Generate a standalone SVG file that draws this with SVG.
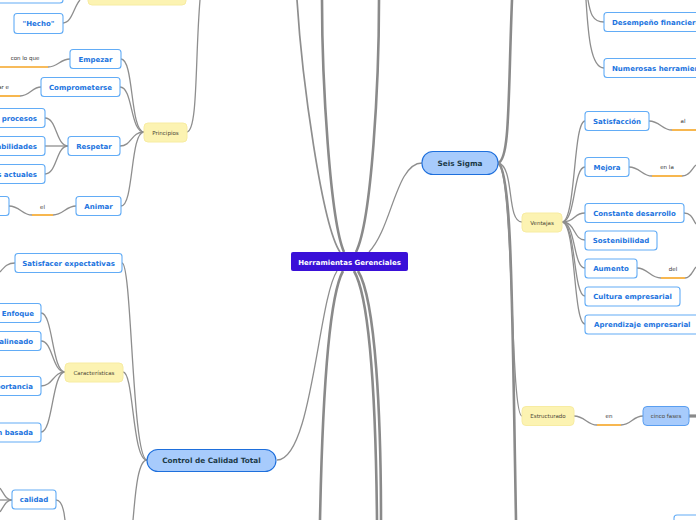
<svg xmlns="http://www.w3.org/2000/svg" width="696" height="520" viewBox="0 0 696 520">
<style>
.c{fill:none;stroke:#8e8e8e;stroke-width:1.3}
.m{fill:none;stroke:#8a8a8a;stroke-width:2.6}
.o{fill:none;stroke:#f5a524;stroke-width:1.6}
.w rect{fill:#fff;stroke:#62acf6;stroke-width:1.1}
.w text{font-family:"DejaVu Sans",sans-serif;font-weight:bold;font-size:7px;fill:#1c74e0}
.y rect{fill:#fcf3b2;stroke:#f7eca2;stroke-width:1}
.y text{font-family:"DejaVu Sans",sans-serif;font-size:5.5px;fill:#4a4636}
.b rect{fill:#a7cbfc;stroke:#1e6fdc;stroke-width:1.1}
.b text{font-family:"DejaVu Sans",sans-serif;font-weight:bold;font-size:7.3px;fill:#1c3a48}
.l{font-family:"DejaVu Sans",sans-serif;font-size:5.5px;fill:#333}
</style>
<rect width="696" height="520" fill="#fff"/>
<g id="connectors">
<path class="c" style="stroke-width:1.7" d="M340,252 C322,225 302,80 297,0"/>
<path class="m" d="M344,252 C330,220 322,80 322,0"/>
<path class="m" d="M356,252 C372,220 379,80 379,0"/>
<path class="c" d="M369,252 C392,228 396,163 422,163"/>
<path class="c" d="M337,271 C318,300 312,460 277,460"/>
<path class="m" d="M343,271 C327,300 322,420 320,520"/>
<path class="m" d="M354,271 C371,300 376,420 377,520"/>
<path class="m" d="M358,271 C376,300 381,420 381,520"/>
<path class="m" d="M498,163 C510,160 508,100 512,0"/>
<path class="m" d="M498,163 C512,170 512,300 516,520"/>
<path class="c" d="M498,163 C515,166 506,222 522,222"/>
<path class="c" d="M498,163 C514,172 510,416 522,416"/>
<path class="c" d="M588,0 C590,12 592,22 604,22"/>
<path class="c" d="M586,0 C588,30 590,68 604,68"/>
<path class="c" d="M562,222 C576,222 573,121 585,121"/>
<path class="c" d="M562,222 C576,222 573,167 585,167"/>
<path class="c" d="M562,222 C576,222 573,213 585,213"/>
<path class="c" d="M562,222 C576,222 573,240 585,240"/>
<path class="c" d="M562,222 C576,222 573,268 585,268"/>
<path class="c" d="M562,222 C576,222 573,296 585,296"/>
<path class="c" d="M562,222 C576,222 573,324 585,324"/>
<path class="c" d="M649,121 C660,121 662,130 672,130"/>
<path class="o" d="M672,130 L696,130"/>
<path class="c" d="M629,167 C640,167 642,176 652,176"/>
<path class="o" d="M652,176 L682,176"/>
<path class="c" d="M682,176 C690,176 692,168 696,165"/>
<path class="c" d="M684,213 C692,213 693,220 696,224"/>
<path class="c" d="M637,268 C648,268 650,278 661,278"/>
<path class="o" d="M661,278 L685,278"/>
<path class="c" d="M685,278 C691,278 693,270 696,267"/>
<path class="c" d="M574,416 C585,416 587,425 597,425"/>
<path class="o" d="M597,425 L621,425"/>
<path class="c" d="M621,425 C631,425 633,416 643,416"/>
<path class="m" style="stroke-width:3.2" d="M689,416 L696,416"/>
<path class="c" d="M187,132 C198,130 195,60 200,0"/>
<path class="c" d="M63,23 C72,23 74,6 80,0"/>
<path class="c" d="M121,59 C134,59 130,132 144,132"/>
<path class="c" d="M120,87 C133,87 130,132 144,132"/>
<path class="c" d="M120,146 C132,146 131,132 144,132"/>
<path class="c" d="M121,206 C134,206 130,132 144,132"/>
<path class="o" d="M0,67 L48,67"/>
<path class="c" d="M48,67 C58,67 60,59 70,59"/>
<path class="o" d="M0,96 L20,96"/>
<path class="c" d="M20,96 C30,96 32,87 41,87"/>
<path class="c" d="M45,118 C57,118 56,146 68,146"/>
<path class="c" d="M45,146 L68,146"/>
<path class="c" d="M45,174 C57,174 56,146 68,146"/>
<path class="c" d="M9,206 C20,206 22,215 32,215"/>
<path class="o" d="M32,215 L53,215"/>
<path class="c" d="M53,215 C63,215 66,206 76,206"/>
<path class="c" d="M0,272 C5,266 8,263 15,263"/>
<path class="c" d="M122,263 C132,263 132,460 147,460"/>
<path class="c" d="M123,372 C134,372 132,460 147,460"/>
<path class="c" d="M147,460 C137,460 135,500 133,520"/>
<path class="c" d="M41,313 C53,313 52,372 65,372"/>
<path class="c" d="M41,341 C53,341 52,372 65,372"/>
<path class="c" d="M41,386 C53,386 53,372 65,372"/>
<path class="c" d="M41,432 C53,432 52,372 65,372"/>
<path class="c" d="M0,488 C4,494 6,500 12,500"/>
<path class="c" d="M0,500 L12,500"/>
<path class="c" d="M0,512 C4,506 6,500 12,500"/>
<path class="c" d="M56,500 C62,500 64,510 65,520"/>
</g>
<text class="l" x="25" y="60" text-anchor="middle">con lo que</text>
<text class="l" x="9" y="89" text-anchor="end">ar e</text>
<text class="l" x="42.5" y="209" text-anchor="middle">el</text>
<text class="l" x="683" y="123" text-anchor="middle">al</text>
<text class="l" x="667" y="169" text-anchor="middle">en la</text>
<text class="l" x="673" y="271" text-anchor="middle">del</text>
<text class="l" x="609" y="418" text-anchor="middle">en</text>
<g id="n-central"><rect x="291" y="252" width="117" height="19" rx="2" fill="#3a10d8"/><text x="349.5" y="264.5" text-anchor="middle" style="font-family:'DejaVu Sans',sans-serif;font-weight:bold;font-size:7px;fill:#fff">Herramientas Gerenciales</text></g>
<g id="n-seis" class="b"><rect x="422" y="151.5" width="76" height="23" rx="11"/><text x="460" y="165.5" text-anchor="middle">Seis Sigma</text></g>
<g id="n-control" class="b"><rect x="147" y="449.5" width="129" height="22" rx="11"/><text x="211.5" y="463" text-anchor="middle">Control de Calidad Total</text></g>
<g id="n-cinco" class="y"><rect x="643" y="406.5" width="46" height="19" rx="4" style="fill:#a7cbfc;stroke:#5a9ef0"/><text x="666" y="418" text-anchor="middle">cinco fases</text></g>
<g id="n-ventajas" class="y"><rect x="522" y="213" width="40" height="19" rx="4"/><text x="542" y="224.5" text-anchor="middle">Ventajas</text></g>
<g id="n-estructurado" class="y"><rect x="522" y="406.5" width="52" height="19" rx="4"/><text x="548" y="418" text-anchor="middle">Estructurado</text></g>
<g id="n-principios" class="y"><rect x="144" y="123" width="43" height="19" rx="4"/><text x="165.5" y="134.5" text-anchor="middle">Principios</text></g>
<g id="n-caracteristicas" class="y"><rect x="65" y="363" width="58" height="19" rx="4"/><text x="94" y="374.5" text-anchor="middle">Características</text></g>
<g id="n-topyellow" class="y"><rect x="88" y="-15" width="98" height="20" rx="4"/></g>
<g id="n-topleft" class="w"><rect x="-30" y="-17" width="93" height="20" rx="3"/></g>
<g id="n-hecho" class="w"><rect x="14" y="13.5" width="49" height="20" rx="3"/><text x="38.5" y="26" text-anchor="middle">"Hecho"</text></g>
<g id="n-empezar" class="w"><rect x="70" y="49.5" width="51" height="19" rx="3"/><text x="95.5" y="61.5" text-anchor="middle">Empezar</text></g>
<g id="n-comprometerse" class="w"><rect x="41" y="77.5" width="79" height="19" rx="3"/><text x="80.5" y="89.5" text-anchor="middle">Comprometerse</text></g>
<g id="n-procesos" class="w"><rect x="-40" y="108.5" width="85" height="19" rx="3"/><text x="37" y="120.5" text-anchor="end">procesos</text></g>
<g id="n-habilidades" class="w"><rect x="-40" y="136.5" width="85" height="19" rx="3"/><text x="37" y="148.5" text-anchor="end">abilidades</text></g>
<g id="n-actuales" class="w"><rect x="-40" y="164.5" width="85" height="19" rx="3"/><text x="37" y="176.5" text-anchor="end">s actuales</text></g>
<g id="n-respetar" class="w"><rect x="68" y="136.5" width="52" height="19" rx="3"/><text x="94" y="148.5" text-anchor="middle">Respetar</text></g>
<g id="n-animar" class="w"><rect x="76" y="196.5" width="45" height="19" rx="3"/><text x="98.5" y="208.5" text-anchor="middle">Animar</text></g>
<g id="n-leftanimar" class="w"><rect x="-40" y="196.5" width="49" height="19" rx="3"/></g>
<g id="n-satisfacer" class="w"><rect x="15" y="253.5" width="107" height="19" rx="3"/><text x="68.5" y="265.5" text-anchor="middle">Satisfacer expectativas</text></g>
<g id="n-enfoque" class="w"><rect x="-40" y="303.5" width="81" height="19" rx="3"/><text x="34" y="315.5" text-anchor="end">Enfoque</text></g>
<g id="n-alineado" class="w"><rect x="-40" y="331.5" width="81" height="19" rx="3"/><text x="33" y="343.5" text-anchor="end">alineado</text></g>
<g id="n-importancia" class="w"><rect x="-40" y="376.5" width="81" height="19" rx="3"/><text x="33" y="388.5" text-anchor="end">portancia</text></g>
<g id="n-basada" class="w"><rect x="-40" y="423" width="81" height="19" rx="3"/><text x="33" y="435" text-anchor="end">n basada</text></g>
<g id="n-calidad" class="w"><rect x="12" y="490" width="44" height="19" rx="3"/><text x="34" y="502" text-anchor="middle">calidad</text></g>
<g id="n-desempeno" class="w"><rect x="604" y="12.5" width="110" height="19" rx="3"/><text x="612" y="24.5">Desempeño financiero</text></g>
<g id="n-numerosas" class="w"><rect x="604" y="58.5" width="110" height="19" rx="3"/><text x="612" y="70.5">Numerosas herramientas</text></g>
<g id="n-satisfaccion" class="w"><rect x="585" y="111.5" width="64" height="19" rx="3"/><text x="617" y="123.5" text-anchor="middle">Satisfacción</text></g>
<g id="n-mejora" class="w"><rect x="585" y="157.5" width="44" height="19" rx="3"/><text x="607" y="169.5" text-anchor="middle">Mejora</text></g>
<g id="n-constante" class="w"><rect x="585" y="203.5" width="99" height="19" rx="3"/><text x="634.5" y="215.5" text-anchor="middle">Constante desarrollo</text></g>
<g id="n-sostenibilidad" class="w"><rect x="585" y="231" width="72" height="19" rx="3"/><text x="621" y="243" text-anchor="middle">Sostenibilidad</text></g>
<g id="n-aumento" class="w"><rect x="585" y="259" width="52" height="19" rx="3"/><text x="611" y="271" text-anchor="middle">Aumento</text></g>
<g id="n-cultura" class="w"><rect x="585" y="287" width="95" height="19" rx="3"/><text x="632.5" y="299" text-anchor="middle">Cultura empresarial</text></g>
<g id="n-aprendizaje" class="w"><rect x="585" y="315" width="115" height="19" rx="3"/><text x="594" y="327">Aprendizaje empresarial</text></g>
<g id="n-bottomright" class="w"><rect x="674" y="515" width="40" height="20" rx="3"/></g>
</svg>
